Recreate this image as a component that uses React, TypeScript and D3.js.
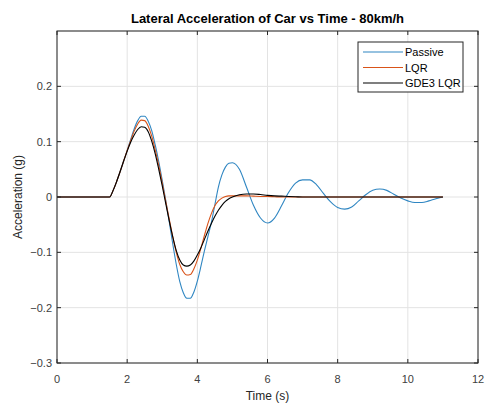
import React from "react";
import * as d3 from "d3";

const times = [0, 1.5, 1.6, 1.7, 1.8, 1.9, 2.0, 2.1, 2.2, 2.3, 2.4, 2.5, 2.6, 2.7, 2.8, 2.9, 3.0, 3.1, 3.2, 3.3, 3.4, 3.5, 3.6, 3.7, 3.8, 3.9, 4.0, 4.1, 4.2, 4.3, 4.4, 4.5, 4.6, 4.7, 4.8, 4.9, 5.0, 5.2, 5.4, 5.6, 5.8, 6.0, 6.2, 6.4, 6.6, 6.8, 7.0, 7.2, 7.4, 7.6, 7.8, 8.0, 8.2, 8.4, 8.6, 8.8, 9.0, 9.2, 9.4, 9.6, 9.8, 10.0, 10.2, 10.4, 10.6, 10.8, 11.0];

const passive = [0, 0, 0.012, 0.028, 0.046, 0.065, 0.084, 0.104, 0.123, 0.138, 0.146, 0.146, 0.137, 0.12, 0.094, 0.064, 0.03, -0.006, -0.045, -0.085, -0.122, -0.153, -0.173, -0.183, -0.183, -0.172, -0.152, -0.126, -0.098, -0.072, -0.046, -0.014, 0.018, 0.04, 0.054, 0.061, 0.062, 0.05, 0.018, -0.015, -0.038, -0.047, -0.038, -0.016, 0.008, 0.025, 0.031, 0.031, 0.022, 0.006, -0.009, -0.019, -0.022, -0.018, -0.007, 0.004, 0.012, 0.0145, 0.012, 0.005, -0.002, -0.007, -0.01, -0.01, -0.007, -0.003, 0];

const lqr = [0, 0, 0.012, 0.028, 0.046, 0.065, 0.084, 0.102, 0.119, 0.132, 0.139, 0.138, 0.128, 0.11, 0.085, 0.057, 0.025, -0.008, -0.04, -0.072, -0.1, -0.122, -0.135, -0.141, -0.14, -0.13, -0.114, -0.093, -0.07, -0.048, -0.03, -0.016, -0.007, -0.002, 0.001, 0.002, 0.002, 0.002, 0.002, 0.0015, 0.001, 0.001, 0.0005, 0, 0, 0, 0, 0, 0, 0, 0, 0, 0, 0, 0, 0, 0, 0, 0, 0, 0, 0, 0, 0, 0, 0, 0];

const gde3 = [0, 0, 0.012, 0.028, 0.046, 0.065, 0.083, 0.099, 0.112, 0.122, 0.127, 0.126, 0.118, 0.101, 0.078, 0.05, 0.02, -0.012, -0.043, -0.072, -0.097, -0.114, -0.123, -0.125, -0.123, -0.116, -0.105, -0.092, -0.077, -0.062, -0.048, -0.035, -0.024, -0.015, -0.008, -0.003, 0, 0.004, 0.0055, 0.0055, 0.0045, 0.003, 0.002, 0.0015, 0.001, 0.0005, 0, 0, 0, 0, 0, 0, 0, 0, 0, 0, 0, 0, 0, 0, 0, 0, 0, 0, 0, 0, 0];

const seriesNames = ["Passive", "LQR", "GDE3 LQR"];
const seriesColors = ["#2f86c2", "#d95319", "#000000"];
const xTicks = [0, 2, 4, 6, 8, 10, 12];
const yTicks = [-0.3, -0.2, -0.1, 0, 0.1, 0.2];

const W = 487, H = 411;
const L = 57, R = 478, T = 31, B = 363;
const FONT = "'Liberation Sans', Arial, Helvetica, sans-serif";

export default function App() {
  const x = d3.scaleLinear().domain([0, 12]).range([L, R]);
  const y = d3.scaleLinear().domain([-0.3, 0.3]).range([B, T]);
  const all = [passive, lqr, gde3];
  const line = d3
    .line<[number, number]>()
    .x((d) => x(d[0]))
    .y((d) => y(d[1]))
    .curve(d3.curveMonotoneX);
  const fmt = (v: number) => (v === 0 ? "0" : d3.format(".1f")(v));
  return (
    <svg width={W} height={H} style={{ position: "absolute", left: 0, top: 0, background: "#fff" }} fontFamily={FONT}>
      <rect x={0} y={0} width={W} height={H} fill="#fff" />
      <rect x={L} y={T} width={R - L} height={B - T} fill="#fff" />
      {xTicks.map((t) => (
        <line key={"gx" + t} x1={x(t)} x2={x(t)} y1={T} y2={B} stroke="#e3e3e3" strokeWidth={1} />
      ))}
      {yTicks.concat([0.3]).map((t) => (
        <line key={"gy" + t} x1={L} x2={R} y1={y(t)} y2={y(t)} stroke="#e3e3e3" strokeWidth={1} />
      ))}
      {all.map((s, i) => (
        <path
          key={seriesNames[i]}
          d={line(times.map((t, j) => [t, s[j]] as [number, number])) || ""}
          fill="none"
          stroke={seriesColors[i]}
          strokeWidth={1.1}
        />
      ))}
      <rect x={L} y={T} width={R - L} height={B - T} fill="none" stroke="#262626" strokeWidth={1} />
      {xTicks.map((t) => (
        <g key={"tx" + t}>
          <line x1={x(t)} x2={x(t)} y1={B} y2={B - 4} stroke="#262626" />
          <line x1={x(t)} x2={x(t)} y1={T} y2={T + 4} stroke="#262626" />
          <text x={x(t)} y={B + 20} textAnchor="middle" fontSize={11} fill="#404040">
            {t}
          </text>
        </g>
      ))}
      {yTicks.map((t) => (
        <g key={"ty" + t}>
          <line x1={L} x2={L + 4} y1={y(t)} y2={y(t)} stroke="#262626" />
          <line x1={R} x2={R - 4} y1={y(t)} y2={y(t)} stroke="#262626" />
          <text x={L - 5} y={y(t) + 4} textAnchor="end" fontSize={11} fill="#404040">
            {fmt(t)}
          </text>
        </g>
      ))}
      <text x={(L + R) / 2} y={23} textAnchor="middle" fontSize={13} fontWeight="bold" fill="#000">
        Lateral Acceleration of Car vs Time - 80km/h
      </text>
      <text x={(L + R) / 2} y={400} textAnchor="middle" fontSize={12} fill="#262626">
        Time (s)
      </text>
      <text
        transform={`translate(22,${(T + B) / 2}) rotate(-90)`}
        textAnchor="middle"
        fontSize={12}
        fill="#262626"
      >
        Acceleration (g)
      </text>
      <g>
        <rect x={358} y={42} width={105} height={50} fill="#fff" stroke="#262626" strokeWidth={1} />
        {seriesNames.map((n, i) => (
          <g key={"lg" + n}>
            <line x1={363} x2={403} y1={52 + i * 15.5} y2={52 + i * 15.5} stroke={seriesColors[i]} strokeWidth={1.1} />
            <text x={405} y={52 + i * 15.5 + 4} fontSize={11} fill="#000">
              {n}
            </text>
          </g>
        ))}
      </g>
    </svg>
  );
}
